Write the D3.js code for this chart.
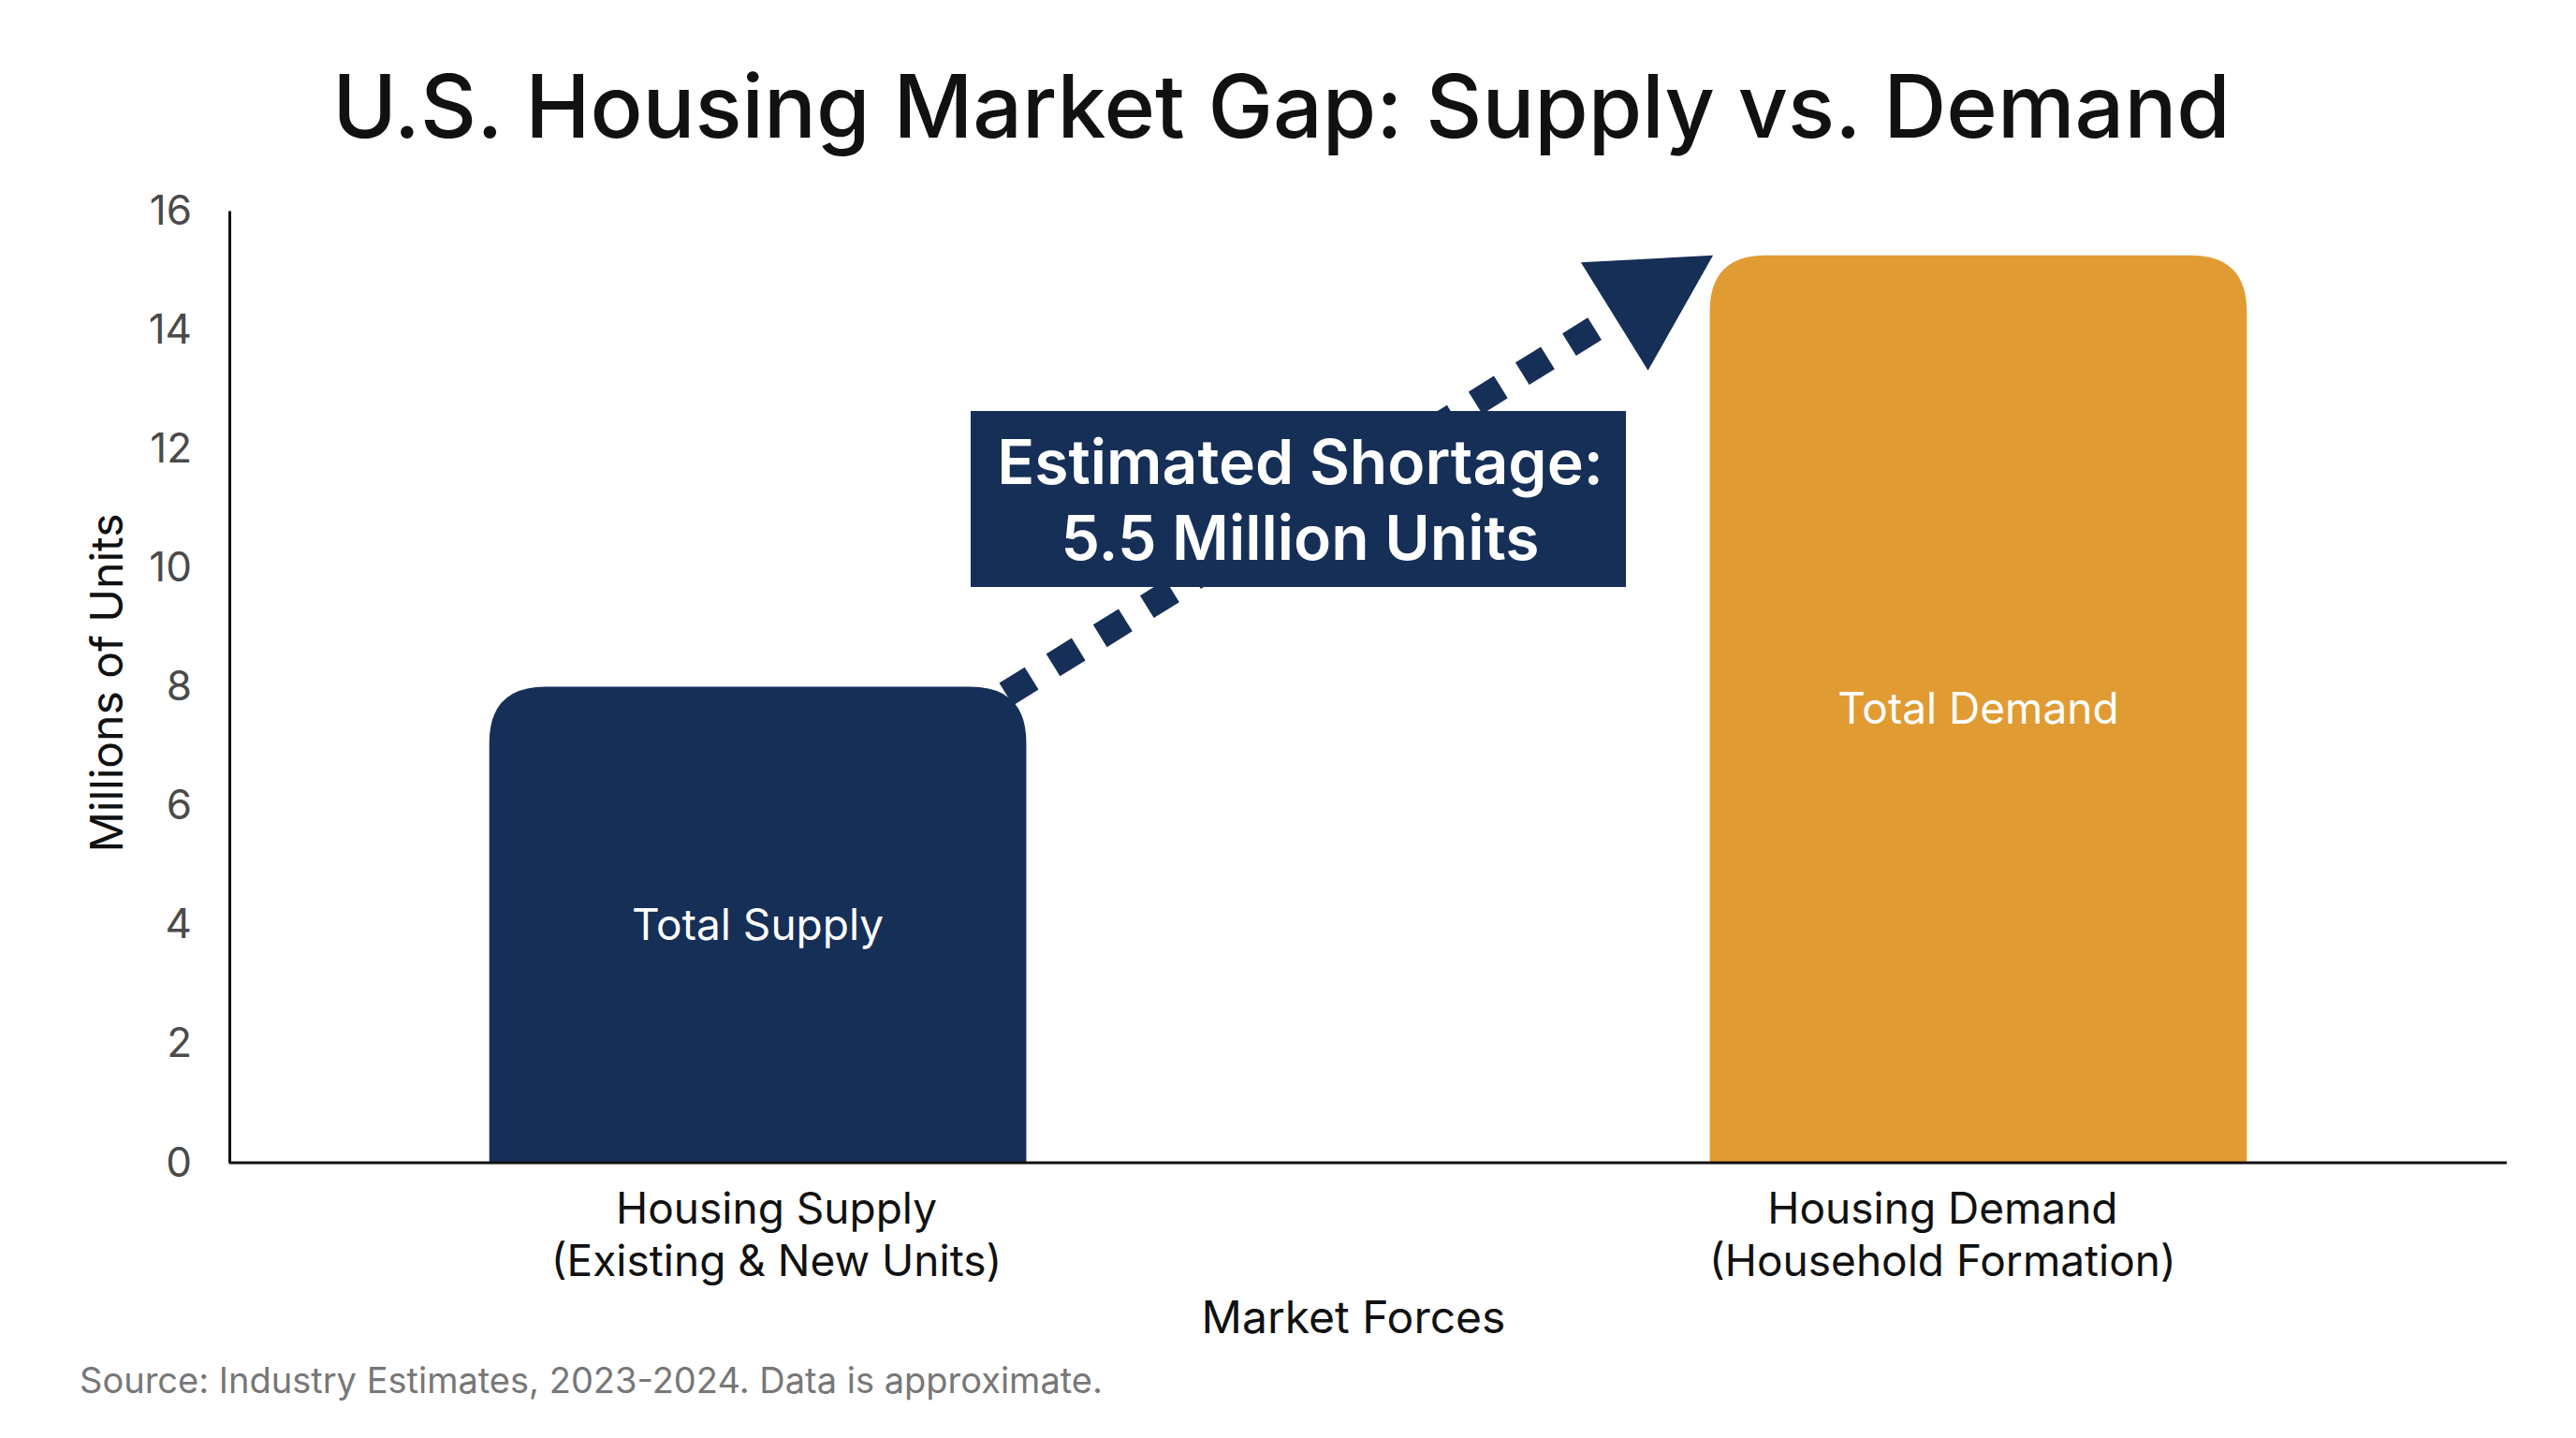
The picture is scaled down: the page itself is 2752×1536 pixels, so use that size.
<!DOCTYPE html>
<html>
<head>
<meta charset="utf-8">
<script src="https://cdn.jsdelivr.net/npm/d3@7"></script>
<style>
  body { margin: 0; background: #fff; }
  text { font-family: Inter, "Noto Sans", sans-serif; }
</style>
</head>
<body>
<div id="chart"></div>
<script>
var width = 2752, height = 1536;

// data
var categories = ["supply", "demand"];
var catLabels = [["Housing Supply", "(Existing & New Units)"], ["Housing Demand", "(Household Formation)"]];
var barLabels = ["Total Supply", "Total Demand"];
var values = [8, 15.25];
var barColors = ["#162f57", "#e19b33"];
var yTicks = [0, 2, 4, 6, 8, 10, 12, 14, 16];
var shortageLines = ["Estimated Shortage:", "5.5 Million Units"];

// plot area (window.top is reserved, so no plain "top")
var plotLeft = 245, plotRight = 2678, plotTop = 225, plotBottom = 1242;

var svg = d3.select("#chart")
  .append("svg")
  .attr("width", width)
  .attr("height", height);

var x = d3.scaleBand()
  .domain(categories)
  .range([plotLeft, plotRight])
  .paddingInner(0.56)
  .paddingOuter(0.213);

var y = d3.scaleLinear()
  .domain([0, 16])
  .range([plotBottom, plotTop]);

// title
svg.append("text")
  .attr("x", 1369)
  .attr("y", 147)
  .attr("text-anchor", "middle")
  .attr("font-size", 93)
  .attr("font-weight", 500)
  .attr("fill", "#111")
  .text("U.S. Housing Market Gap: Supply vs. Demand");

// y axis
var yAxis = svg.append("g")
  .attr("transform", "translate(" + plotLeft + ",0)")
  .call(d3.axisLeft(y).tickValues(yTicks).tickSize(0).tickPadding(40));
yAxis.select(".domain").attr("stroke", "#111").attr("stroke-width", 3);
yAxis.selectAll("text")
  .attr("font-size", 44)
  .attr("fill", "#4a4a4a")
  .style("font-family", "Inter, sans-serif");

svg.append("text")
  .attr("transform", "translate(114," + ((plotTop + plotBottom) / 2 - 4) + ") rotate(-90)")
  .attr("text-anchor", "middle")
  .attr("dy", "0.35em")
  .attr("font-size", 48)
  .attr("fill", "#111")
  .text("Millions of Units");

// dashed arrow (drawn under the bars and box)
var bw = x.bandwidth();
var x0 = x("supply") + bw - 21.5, y0 = y(values[0]) + 8;
var x1 = x("demand") + 3.5, y1 = y(values[1]);
var dx = x1 - x0, dy = y1 - y0, len = Math.sqrt(dx * dx + dy * dy);
var ux = dx / len, uy = dy / len;
var headLen = 124, headHalf = 68;
var bx = x1 - ux * headLen, by = y1 - uy * headLen;

svg.append("line")
  .attr("x1", x0).attr("y1", y0)
  .attr("x2", bx + ux * 4).attr("y2", by + uy * 4)
  .attr("stroke", "#162f57")
  .attr("stroke-width", 28)
  .attr("stroke-dasharray", "32 27");

svg.append("path")
  .attr("d", "M" + x1 + "," + y1 +
    "L" + (bx - uy * headHalf) + "," + (by + ux * headHalf) +
    "L" + (bx + uy * headHalf) + "," + (by - ux * headHalf) + "Z")
  .attr("fill", "#162f57");

// bars with rounded tops
function topRounded(xp, yp, w, h, r) {
  return "M" + xp + "," + (yp + h) +
    "V" + (yp + r) +
    "Q" + xp + "," + yp + " " + (xp + r) + "," + yp +
    "H" + (xp + w - r) +
    "Q" + (xp + w) + "," + yp + " " + (xp + w) + "," + (yp + r) +
    "V" + (yp + h) + "Z";
}

svg.selectAll(".bar")
  .data(values)
  .enter()
  .append("path")
  .attr("class", "bar")
  .attr("d", function(d, i) {
    return topRounded(x(categories[i]), y(d), bw, y(0) - y(d), 60);
  })
  .attr("fill", function(d, i) { return barColors[i]; });

svg.selectAll(".barlabel")
  .data(values)
  .enter()
  .append("text")
  .attr("class", "barlabel")
  .attr("x", function(d, i) { return x(categories[i]) + bw / 2; })
  .attr("y", function(d) { return (y(d) + y(0)) / 2; })
  .attr("dy", "0.35em")
  .attr("text-anchor", "middle")
  .attr("font-size", 46)
  .attr("fill", "#fff")
  .text(function(d, i) { return barLabels[i]; });

// x axis
svg.append("line")
  .attr("x1", plotLeft).attr("x2", plotRight)
  .attr("y1", plotBottom).attr("y2", plotBottom)
  .attr("stroke", "#111")
  .attr("stroke-width", 3);

var labelShift = [20, -38];
var xl = svg.selectAll(".xlabel")
  .data(catLabels)
  .enter()
  .append("text")
  .attr("class", "xlabel")
  .attr("text-anchor", "middle")
  .attr("font-size", 46)
  .attr("fill", "#111");
xl.selectAll("tspan")
  .data(function(d, i) { return d.map(function(t) { return { t: t, i: i }; }); })
  .enter()
  .append("tspan")
  .attr("x", function(d) { return x(categories[d.i]) + bw / 2 + labelShift[d.i]; })
  .attr("y", function(d, j) { return 1307 + j * 56; })
  .text(function(d) { return d.t; });

svg.append("text")
  .attr("x", 1446)
  .attr("y", 1424)
  .attr("text-anchor", "middle")
  .attr("font-size", 48)
  .attr("fill", "#111")
  .text("Market Forces");

// shortage box
svg.append("rect")
  .attr("x", 1037).attr("y", 439)
  .attr("width", 700).attr("height", 188)
  .attr("fill", "#162f57");

svg.selectAll(".note")
  .data(shortageLines)
  .enter()
  .append("text")
  .attr("class", "note")
  .attr("x", 1389)
  .attr("y", function(d, i) { return 517 + i * 81; })
  .attr("text-anchor", "middle")
  .attr("font-size", 66)
  .attr("font-weight", 600)
  .attr("fill", "#fff")
  .text(function(d) { return d; });

// source
svg.append("text")
  .attr("x", 85)
  .attr("y", 1488)
  .attr("font-size", 38)
  .attr("fill", "#777")
  .text("Source: Industry Estimates, 2023-2024. Data is approximate.");
</script>
</body>
</html>
